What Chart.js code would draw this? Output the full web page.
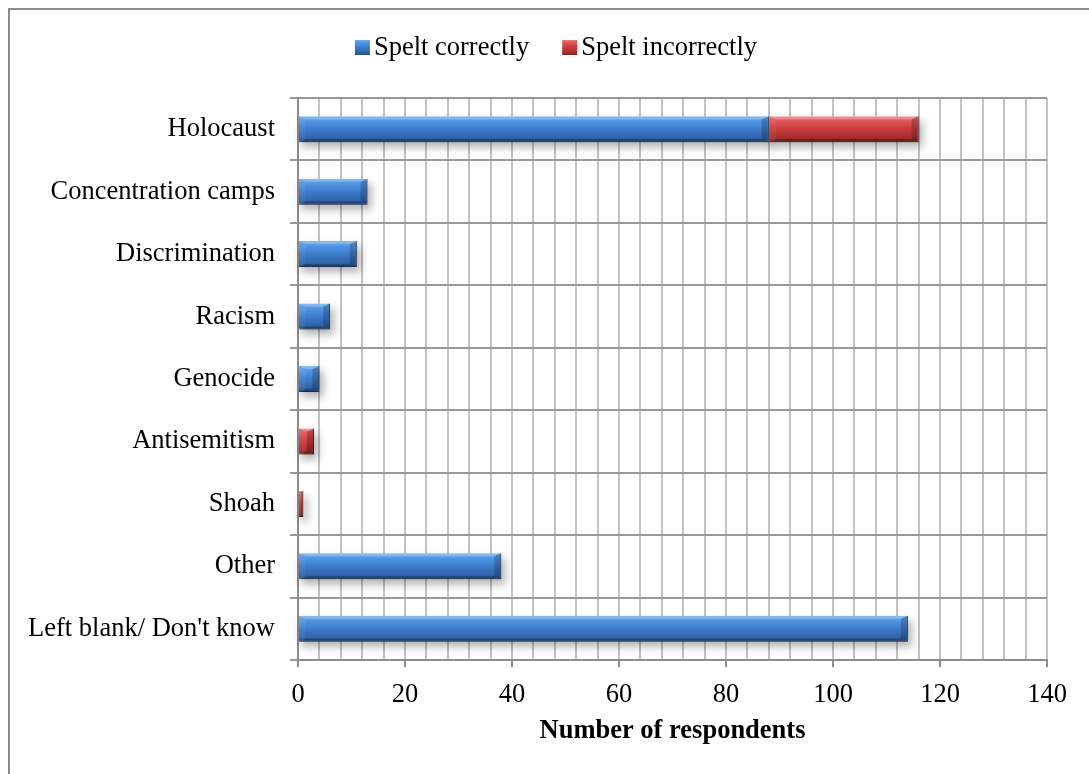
<!DOCTYPE html>
<html>
<head>
<meta charset="utf-8">
<script src="https://cdn.jsdelivr.net/npm/chart.js@4.4.1/dist/chart.umd.min.js"></script>
<style>
  html, body { margin: 0; padding: 0; background: #ffffff; overflow: hidden; }
  #frame { position: absolute; left: 8px; top: 8px; width: 1120px; height: 820px;
           border: 2px solid #8c8c8c; box-sizing: border-box; }
  #wrap { position: absolute; left: 0; top: 0; width: 1089px; height: 774px; }
</style>
</head>
<body>
<div id="frame"></div>
<div id="wrap"><canvas id="chart" width="1089" height="774"></canvas></div>
<script>
// Survey answers: which term respondents used, split by spelling
const categories = [
  'Holocaust', 'Concentration camps', 'Discrimination', 'Racism', 'Genocide',
  'Antisemitism', 'Shoah', 'Other', "Left blank/ Don't know"
];
const speltCorrectly   = [88, 13, 11, 6, 4, null, null, 38, 114];
const speltIncorrectly = [28, null, null, null, null, 3, 1, null, null];
const seriesNames = ['Spelt correctly', 'Spelt incorrectly'];
const xTicks = [0, 20, 40, 60, 80, 100, 120, 140];

const FONT = "'Liberation Serif', 'Times New Roman', serif";
const FONT_SIZE = 26.5;
const BAR_SHARE = 0.416;

const blueStops = [[0, '#6aaaf0'], [0.14, '#5699e6'], [0.45, '#3f7fcf'], [0.8, '#3266ad'], [1, '#264f86']];
const redStops  = [[0, '#f27a7a'], [0.14, '#e25a5a'], [0.45, '#cb3d3d'], [0.8, '#a83030'], [1, '#7e2323']];

function gradientFill(stops) {
  return (ctx) => {
    const chart = ctx.chart;
    const yScale = chart.scales && chart.scales.y;
    if (!chart.chartArea || !yScale || ctx.type !== 'data') return stops[2][1];
    const yc = yScale.getPixelForValue(ctx.dataIndex);
    const half = (yScale.height / categories.length) * BAR_SHARE / 2;
    const g = chart.ctx.createLinearGradient(0, yc - half, 0, yc + half);
    stops.forEach(([o, c]) => g.addColorStop(o, c));
    return g;
  };
}

// walk every drawn bar element with its box
function eachBar(chart, fn) {
  chart.data.datasets.forEach((ds, di) => {
    chart.getDatasetMeta(di).data.forEach((el, i) => {
      if (ds.data[i] == null) return;
      const { x, y, base, height } = el.getProps(['x', 'y', 'base', 'height'], true);
      fn({ left: Math.min(x, base), right: Math.max(x, base), top: y - height / 2, bottom: y + height / 2 });
    });
  });
}

// soft shadow beneath the bars, then bevelled edges over them
const barDecor = {
  id: 'barDecor',
  beforeDatasetsDraw(chart) {
    const c = chart.ctx;
    c.save();
    c.filter = 'blur(4px)';
    c.fillStyle = 'rgba(0,0,0,0.30)';
    eachBar(chart, (r) => c.fillRect(r.left + 2, r.top + 5, r.right - r.left + 2, r.bottom - r.top));
    c.restore();
  },
  afterDatasetsDraw(chart) {
    const c = chart.ctx;
    c.save();
    const poly = (pts, fill) => {
      c.beginPath();
      c.moveTo(pts[0][0], pts[0][1]);
      pts.slice(1).forEach(p => c.lineTo(p[0], p[1]));
      c.closePath();
      c.fillStyle = fill;
      c.fill();
    };
    eachBar(chart, ({ left, right, top, bottom }) => {
      const b = Math.min(7, (right - left) / 2, (bottom - top) / 2);
      const v = b * 0.45;
      poly([[left, top], [right, top], [right - b, top + v], [left + b, top + v]], 'rgba(255,255,255,0.22)');
      poly([[left, bottom], [right, bottom], [right - b, bottom - v], [left + b, bottom - v]], 'rgba(0,0,0,0.22)');
      poly([[left, top], [left + b, top + v], [left + b, bottom - v], [left, bottom]], 'rgba(255,255,255,0.06)');
      poly([[right, top], [right - b, top + v], [right - b, bottom - v], [right, bottom]], 'rgba(0,0,0,0.2)');
    });
    c.restore();
  }
};

// legend row across the top, centred on the frame
const topLegend = {
  id: 'topLegend',
  afterDraw(chart) {
    const c = chart.ctx;
    const box = 15, gapText = 4, gapItem = 33, centerX = 556, midY = 47.5;
    c.save();
    c.font = FONT_SIZE + 'px ' + FONT;
    c.textBaseline = 'middle';
    c.fillStyle = '#000';
    const widths = seriesNames.map(t => c.measureText(t).width);
    const total = widths.reduce((a, w) => a + box + gapText + w, 0) + gapItem * (seriesNames.length - 1);
    let x = centerX - total / 2;
    const stopsList = [blueStops, redStops];
    seriesNames.forEach((name, i) => {
      const g = c.createLinearGradient(0, midY - box / 2, 0, midY + box / 2);
      stopsList[i].forEach(([o, col]) => g.addColorStop(o, col));
      c.fillStyle = g;
      c.fillRect(x, midY - box / 2, box, box);
      c.fillStyle = '#000';
      c.fillText(name, x + box + gapText, midY + 1);
      x += box + gapText + widths[i] + gapItem;
    });
    c.restore();
  }
};

new Chart(document.getElementById('chart'), {
  type: 'bar',
  data: {
    labels: categories,
    datasets: [
      { label: seriesNames[0], data: speltCorrectly, backgroundColor: gradientFill(blueStops),
        borderColor: '#1f3f6b', borderWidth: { top: 0, left: 0, right: 1, bottom: 1 }, borderSkipped: 'start' },
      { label: seriesNames[1], data: speltIncorrectly, backgroundColor: gradientFill(redStops),
        borderColor: '#5e1616', borderWidth: { top: 0, left: 0, right: 1, bottom: 1 }, borderSkipped: 'start' }
    ]
  },
  plugins: [barDecor, topLegend],
  options: {
    indexAxis: 'y',
    responsive: false,
    animation: false,
    devicePixelRatio: 1,
    barPercentage: BAR_SHARE,
    categoryPercentage: 1,
    layout: { padding: { left: 0, top: 98, right: 42, bottom: 27 } },
    plugins: { legend: { display: false }, tooltip: { enabled: false } },
    scales: {
      x: {
        stacked: true,
        min: 0, max: 140,
        afterBuildTicks(scale) {
          const t = [];
          for (let v = 0; v <= 140; v += 4) t.push({ value: v });
          scale.ticks = t;
        },
        afterFit(scale) { scale.height = 87; },
        grid: {
          color: '#c2c2c2', lineWidth: 2, tickLength: 7,
          tickColor: (ctx) => (ctx.tick && xTicks.includes(ctx.tick.value)) ? '#8c8c8c' : 'rgba(0,0,0,0)'
        },
        border: { color: '#8c8c8c', width: 2 },
        ticks: {
          autoSkip: false, maxRotation: 0, padding: 12,
          color: '#000', font: { family: FONT, size: FONT_SIZE },
          callback: (v) => xTicks.includes(v) ? String(v) : ''
        },
        title: {
          display: true, text: 'Number of respondents', color: '#000',
          font: { family: FONT, size: FONT_SIZE, weight: 'bold' }, padding: { top: 0, bottom: 0 }
        }
      },
      y: {
        stacked: true,
        afterFit(scale) { scale.width = 298; },
        grid: { offset: true, color: '#999999', lineWidth: 2, tickLength: 8 },
        border: { color: '#8c8c8c', width: 2 },
        ticks: { color: '#000', padding: 15, font: { family: FONT, size: FONT_SIZE } }
      }
    }
  }
});
</script>
</body>
</html>
